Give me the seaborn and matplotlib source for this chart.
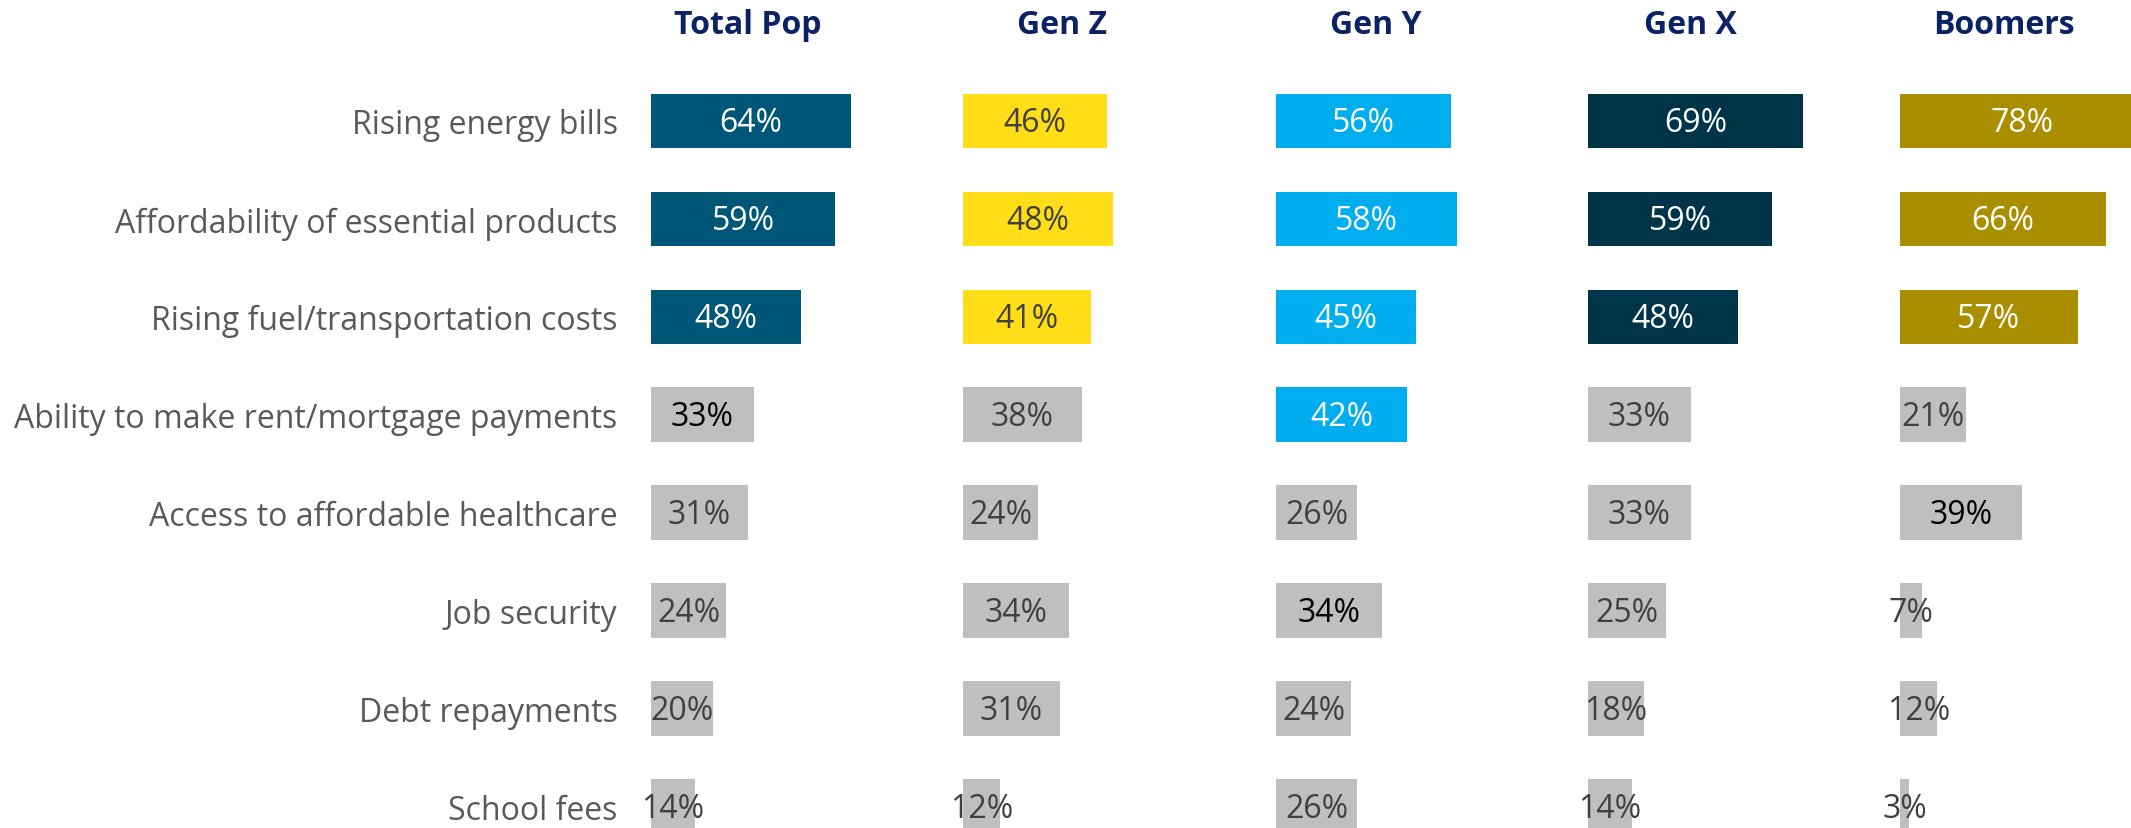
import seaborn as sns
import matplotlib.pyplot as plt
import pandas as pd

# concerns (rows, top to bottom)
categories = [
    "Rising energy bills",
    "Affordability of essential products",
    "Rising fuel/transportation costs",
    "Ability to make rent/mortgage payments",
    "Access to affordable healthcare",
    "Job security",
    "Debt repayments",
    "School fees",
]
groups = ["Total Pop", "Gen Z", "Gen Y", "Gen X", "Boomers"]

total_pop = [64, 59, 48, 33, 31, 24, 20, 14]
gen_z = [46, 48, 41, 38, 24, 34, 31, 12]
gen_y = [56, 58, 45, 42, 26, 34, 24, 26]
gen_x = [69, 59, 48, 33, 33, 25, 18, 14]
boomers = [78, 66, 57, 21, 39, 7, 12, 3]

# how many of the top rows are highlighted in each group
n_highlight = [3, 3, 4, 3, 3]

sns.set_theme(style="white")
plt.rcParams["font.family"] = ["Open Sans", "DejaVu Sans"]

colors = ["#005677", "#FFDE17", "#00AEEF", "#003549", "#A98E00"]
hl_text = ["white", "#404040", "white", "white", "white"]
grey = "#BFBFBF"
grey_text = "#404040"
# a few grey bars carry black labels in the original
black_labels = {(0, 3), (2, 5), (4, 4)}

W, H = 2131, 829
fig = plt.figure(figsize=(W / 100, H / 100), dpi=100)

px_per_pct = 3.12
starts = [651, 963, 1276, 1588, 1900]
header_x = [31.1, 31.7, 32.0, 32.7, 33.3]
row0, pitch = 122, 97.9
ylim = ((H - row0) / pitch, -row0 / pitch)
fs = 23

series = [total_pop, gen_z, gen_y, gen_x, boomers]
for g, (name, vals) in enumerate(zip(groups, series)):
    span = min(100 * px_per_pct, W - starts[g])
    ax = fig.add_axes([starts[g] / W, 0, span / W, 1])
    df = pd.DataFrame({"concern": categories, "value": vals})
    pal = {c: (colors[g] if i < n_highlight[g] else grey) for i, c in enumerate(categories)}
    sns.barplot(data=df, x="value", y="concern", hue="concern", palette=pal,
                legend=False, width=0.556, ax=ax, saturation=1, linewidth=0)
    ax.set_xlim(0, span / px_per_pct)
    ax.set_ylim(*ylim)
    ax.set_xlabel("")
    ax.set_ylabel("")
    ax.set_xticks([])
    sns.despine(ax=ax, left=True, bottom=True)
    for i, v in enumerate(vals):
        if i < n_highlight[g]:
            tc = hl_text[g]
        elif (g, i) in black_labels:
            tc = "black"
        else:
            tc = grey_text
        ax.text(v / 2, i + 0.02, f"{v}%", ha="center", va="center", fontsize=fs,
                color=tc, clip_on=False)
    ax.text(header_x[g], -0.99, name, ha="center", va="center", fontsize=fs,
            fontweight="bold", color="#0B2265", clip_on=False)
    if g == 0:
        ax.tick_params(axis="y", length=0, pad=24, labelsize=fs, labelcolor="#595959")
    else:
        ax.set_yticks([])

fig.savefig("out.png", dpi=100)
